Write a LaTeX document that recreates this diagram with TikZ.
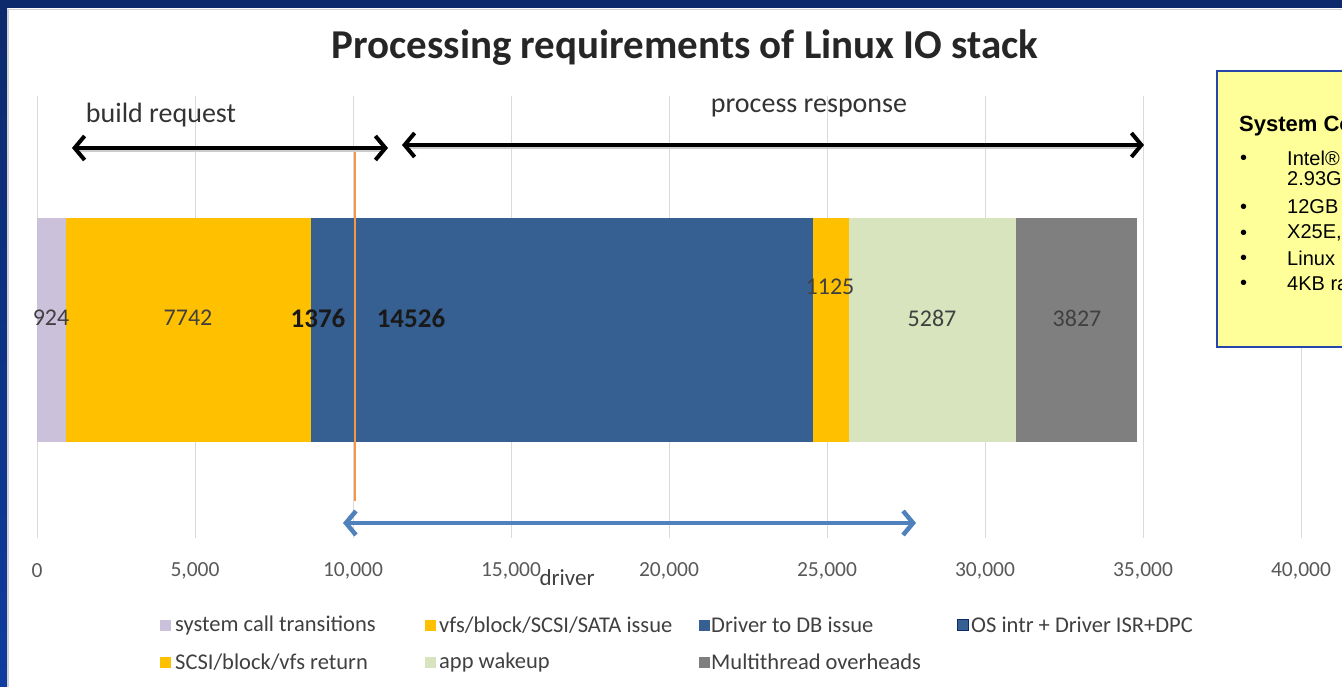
\documentclass[tikz,border=0pt]{standalone}
\usepackage{fontspec}
\setmainfont{Carlito}
\newfontfamily\arialfont{Liberation Sans}
\usetikzlibrary{arrows.meta,calc}
\definecolor{navy}{HTML}{0C2A6C}
\definecolor{navyb}{HTML}{0F3C9E}
\definecolor{lilac}{HTML}{CCC1DA}
\definecolor{amber}{HTML}{FFC000}
\definecolor{steel}{HTML}{376092}
\definecolor{sage}{HTML}{D7E4BD}
\definecolor{midgray}{HTML}{7F7F7F}
\definecolor{gridc}{HTML}{D9D9D9}
\definecolor{axtext}{HTML}{595959}
\definecolor{legtext}{HTML}{404040}
\definecolor{lineorange}{HTML}{F79646}
\definecolor{arrowblue}{HTML}{4F81BD}
\definecolor{notefill}{HTML}{FFFF99}
\definecolor{noteedge}{HTML}{2646A8}
\tikzset{
  gridline/.style={draw=gridc,line width=1pt},
  axlab/.style={font=\fontsize{21.5}{21.5}\selectfont,text=axtext,inner sep=0pt},
  barlab/.style={font=\fontsize{24}{24}\selectfont,text=legtext,inner sep=0pt},
  barbold/.style={font=\fontsize{27}{27}\selectfont\bfseries,text=black!90,inner sep=0pt},
  legsq/.style={minimum size=11pt,inner sep=0pt},
  legtxt/.style={font=\fontsize{22.5}{22.5}\selectfont,text=legtext,inner sep=0pt,anchor=west},
  spanarrow/.style={line width=4pt,black,{Straight Barb[length=10pt,width=24pt,line width=4pt]}-{Straight Barb[length=10pt,width=24pt,line width=4pt]}},
  drvarrow/.style={line width=4.5pt,arrowblue,{Straight Barb[length=10pt,width=24pt,line width=4.5pt]}-{Straight Barb[length=10pt,width=24pt,line width=4.5pt]}},
  bul/.style={font=\arialfont\fontsize{20}{20}\selectfont,inner sep=0pt,anchor=west},
}
\begin{document}
\begin{tikzpicture}[x=1pt,y=-1pt]
\useasboundingbox (0,0) rectangle (1342,687);
\clip (0,0) rectangle (1342,687);
\fill[white] (0,0) rectangle (1342,687);
% frame
\shade[top color=navy,bottom color=navyb] (0,0) rectangle (7,687);
\fill[navy] (0,0) rectangle (1342,8);
\draw[gray!35,line width=1.5pt] (8,687) -- (8,9.5) -- (1342,9.5);
% gridlines
\foreach \i in {0,...,8} {
  \draw[gridline] ({37+\i*158},96) -- ({37+\i*158},538);
}
% title
\node[font=\fontsize{41}{41}\selectfont\bfseries,text=black!85] (title) at (685,48) {Processing requirements of Linux IO stack};
% bar segments
\fill[lilac] (37,218) rectangle (66.2,442);
\fill[amber] (66.2,218) rectangle (311,442);
\fill[steel] (311,218) rectangle (354.4,442);
\fill[steel] (354.4,218) rectangle (813.3,442);
\fill[amber] (813.3,218) rectangle (848.9,442);
\fill[sage] (848.9,218) rectangle (1016,442);
\fill[midgray] (1016,218) rectangle (1137,442);
% bar labels
\node[barlab] (l924) at (51,318) {924};
\node[barlab] (l7742) at (188,318) {7742};
\node[barbold] (l1376) at (318,318) {1376};
\node[barbold] (l14526) at (411,318) {14526};
\node[barlab] (l1125) at (830,287) {1125};
\node[barlab] (l5287) at (932,318) {5287};
\node[barlab] (l3827) at (1077,318) {3827};
% orange line
\coordinate (otop) at (355,148);
\coordinate (obot) at (355,501);
\draw[lineorange,line width=2.5pt] (otop) -- (obot);
% span arrows
\coordinate (brL) at (72,148);
\coordinate (brR) at (388,148);
\coordinate (prL) at (402,145);
\coordinate (prR) at (1144,145);
\draw[gray!40,line width=3pt] ($(brL)+(8,3)$) -- ($(brR)+(-8,3)$);
\draw[gray!40,line width=3pt] ($(prL)+(8,3)$) -- ($(prR)+(-8,3)$);
\draw[spanarrow] (brL) -- (brR);
\draw[spanarrow] (prL) -- (prR);
\node[font=\fontsize{28}{28}\selectfont,text=black!80] (build) at (161,115) {build request};
\node[font=\fontsize{28}{28}\selectfont,text=black!80] (proc) at (809,108) {process response};
% driver arrow
\coordinate (dL) at (343,523);
\coordinate (dR) at (916,523);
\draw[drvarrow] (dL) -- (dR);
% axis labels
\node[axlab] (a0) at (37,571) {0};
\node[axlab] (a1) at (195,571) {5,000};
\node[axlab] (a2) at (353,571) {10,000};
\node[axlab] (a3) at (511,571) {15,000};
\node[axlab] (a4) at (669,571) {20,000};
\node[axlab] (a5) at (827,571) {25,000};
\node[axlab] (a6) at (985,571) {30,000};
\node[axlab] (a7) at (1143,571) {35,000};
\node[axlab] (a8) at (1301,571) {40,000};
\node[font=\fontsize{23}{23}\selectfont,text=black!75,inner sep=0pt] (drv) at (567,578) {driver};
% legend
\node[legsq,fill=lilac] (s1) at (165,625) {};
\node[legtxt] (t1) at (175,625) {system call transitions};
\node[legsq,fill=amber] (s2) at (430,625) {};
\node[legtxt] (t2) at (439,625) {vfs/block/SCSI/SATA issue};
\node[legsq,fill=steel] (s3) at (704,625) {};
\node[legtxt] (t3) at (711,625) {Driver to DB issue};
\node[legsq,fill=steel,draw=navy,line width=0.8pt] (s4) at (963,625) {};
\node[legtxt] (t4) at (971,625) {OS intr + Driver ISR+DPC};
\node[legsq,fill=amber] (s5) at (165,662) {};
\node[legtxt] (t5) at (175,662) {SCSI/block/vfs return};
\node[legsq,fill=sage] (s6) at (430,662) {};
\node[legtxt] (t6) at (439,662) {app wakeup};
\node[legsq,fill=midgray] (s7) at (704,662) {};
\node[legtxt] (t7) at (711,662) {Multithread overheads};
% configuration note
\draw[fill=notefill,draw=noteedge,line width=2pt] (1217,71) rectangle (1360,347);
\node[font=\arialfont\fontsize{22}{22}\selectfont\bfseries,inner sep=0pt,anchor=west] (cfg) at (1239,126) {System Configuration};
\node[bul] (b1) at (1240,160) {•};
\node[bul] (i1) at (1287,158) {Intel®};
\node[bul] (i2) at (1287,179) {2.93GHz};
\node[bul] (b3) at (1240,209) {•};
\node[bul] (i3) at (1287,207) {12GB};
\node[bul] (b4) at (1240,235) {•};
\node[bul] (i4) at (1287,233) {X25E,};
\node[bul] (b5) at (1240,260) {•};
\node[bul] (i5) at (1287,258) {Linux};
\node[bul] (b6) at (1240,285) {•};
\node[bul] (i6) at (1287,283) {4KB random};
\end{tikzpicture}
\end{document}
